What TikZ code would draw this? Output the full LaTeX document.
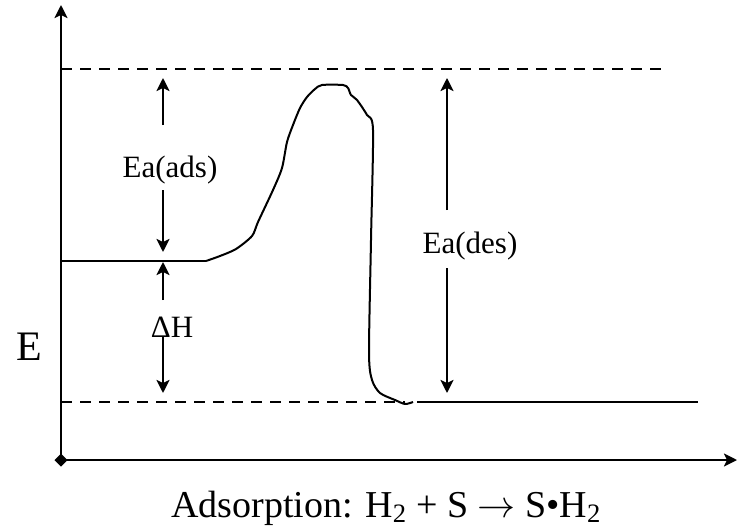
\documentclass[tikz,border=0pt]{standalone}
\usepackage{fix-cm}
\usepackage{fontspec}
\setmainfont{Liberation Serif}
\usepackage{tikz}
\usetikzlibrary{arrows.meta,shapes.geometric}

\begin{document}
\begin{tikzpicture}[x=1pt, y=-1pt,
  line width=2.4pt,
  >={Stealth[length=13pt,width=13pt,inset=3pt]},
  lbl/.style={font=\fontsize{31}{36}\selectfont, inner sep=0pt, anchor=base},
  lvl/.style={dash pattern=on 11pt off 8pt},
  origin/.style={diamond, fill=black, draw=none, minimum size=14pt, inner sep=0pt}]
\useasboundingbox (0,0) rectangle (738,532);
% axes
\node[origin] (O) at (61,460) {};
\coordinate (ytip) at (61,5);
\coordinate (xtip) at (737,460);
\draw[->] (O.center) -- (ytip);
\draw[->] (O.center) -- (xtip);
% energy levels
\coordinate (top) at (61,69);
\coordinate (topend) at (663,69);
\coordinate (react) at (61,261);
\coordinate (reactend) at (206,261);
\coordinate (prod) at (61,402);
\coordinate (prodmid) at (405,402);
\coordinate (prodstart) at (417,402);
\coordinate (prodend) at (698,402);
\draw[lvl] (top) -- (topend);
\draw (react) -- (reactend);
\draw[lvl] (prod) -- (prodmid);
\draw (prodstart) -- (prodend);
% barrier
\draw[line width=2pt, line join=round] plot[smooth, tension=0.45] coordinates {
  (206,261) (220,256) (236,249) (252,236) (258,222) (273,190) (282,168)
  (287,142) (293,125) (300,108) (307,97) (315,89) (322,85) (343,85)
  (348,88) (351,95) (357,100) (367,115) (373,130) (371,240) (369,353)
  (372,380) (380,393) (395,400) (405,404) (413,402)};
% labels
\node[lbl] (eaads) at (170,177) {Ea(ads)};
\node[lbl] (dH) at (172,337) {ΔH};
\node[lbl] (eades) at (470,253) {Ea(des)};
\node[lbl, font=\fontsize{42}{48}\selectfont] (E) at (29,360) {E};
\node[lbl, font=\fontsize{38}{44}\selectfont] (title) at (386,517)
  {Adsorption: H\textsubscript{2} + S $\rightarrow$ S•H\textsubscript{2}};
% arrows
\coordinate (adsup) at (163,78);
\coordinate (adsdn) at (163,252);
\coordinate (dhup) at (163,262);
\coordinate (dhdn) at (163,393);
\coordinate (desup) at (447,78);
\coordinate (desdn) at (447,393);
\draw[->] (163,125) -- (adsup);
\draw[->] (163,190) -- (adsdn);
\draw[->] (163,300) -- (dhup);
\draw[->] (163,337) -- (dhdn);
\draw[->] (447,210) -- (desup);
\draw[->] (447,268) -- (desdn);
\end{tikzpicture}
\end{document}
